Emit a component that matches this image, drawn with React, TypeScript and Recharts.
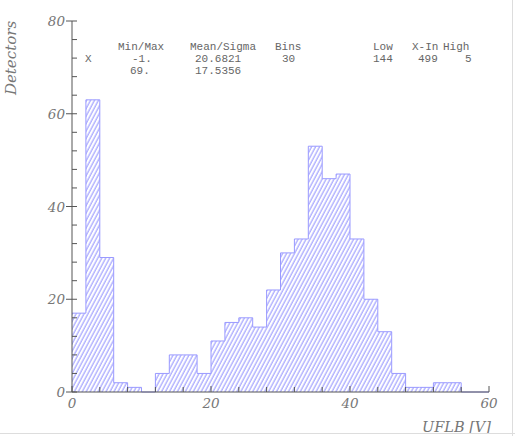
import React from 'react'
import { ComposedChart, Area, XAxis, YAxis } from 'recharts'

// histogram: 30 bins of width 2 over [0, 60]
const binStarts = [0, 2, 4, 6, 8, 10, 12, 14, 16, 18, 20, 22, 24, 26, 28, 30, 32, 34, 36, 38, 40, 42, 44, 46, 48, 50, 52, 54, 56, 58]
const counts = [17, 63, 29, 2, 1, 0, 4, 8, 8, 4, 11, 15, 16, 14, 22, 30, 33, 53, 46, 47, 33, 20, 13, 4, 1, 1, 2, 2, 0, 0]
const xMax = 60
const yMax = 80

const xTicks = [0, 4, 8, 12, 16, 20, 24, 28, 32, 36, 40, 44, 48, 52, 56, 60]
const yTicks = [0, 4, 8, 12, 16, 20, 24, 28, 32, 36, 40, 44, 48, 52, 56, 60, 64, 68, 72, 76, 80]
const majorTicks = [0, 20, 40, 60, 80]

const statsHeader = ['Min/Max', 'Mean/Sigma', 'Bins', 'Low', 'X-In', 'High']
const statsRow1 = ['X', '-1.', '20.6821', '30', '144', '499', '5']
const statsRow2 = ['69.', '17.5356']

// step points: one per bin start plus the closing edge
const data = binStarts.map((x, i) => ({ x, count: counts[i] }))
data.push({ x: xMax, count: counts[counts.length - 1] })

const axisColor = '#555'
const labelFont = '"DejaVu Serif", serif'

const AxisTick = (props: any) => {
	const { x, y, payload, side } = props
	const v = payload.value
	const major = majorTicks.includes(v)
	const len = major ? 6 : 5
	if (side === 'bottom') {
		return (
			<g>
				<line x1={x} x2={x} y1={y} y2={y - len} stroke={axisColor} />
				{major && (
					<text x={x} y={y + 16} textAnchor="middle" fontSize={13.5} fontStyle="italic"
						fontFamily={labelFont} fill="#777">{v}</text>
				)}
			</g>
		)
	}
	if (side === 'top') {
		return <line x1={x} x2={x} y1={y} y2={y + len} stroke={axisColor} />
	}
	if (side === 'left') {
		return (
			<g>
				<line x1={major ? x - 6 : x} x2={x + 5} y1={y} y2={y} stroke={axisColor} />
				{major && (
					<text x={x - 7} y={y + 5} textAnchor="end" fontSize={13.5} fontStyle="italic"
						fontFamily={labelFont} fill="#777">{v}</text>
				)}
			</g>
		)
	}
	return <line x1={x} x2={x - 5} y1={y} y2={y} stroke={axisColor} />
}

const statsStyle: React.CSSProperties = { fontFamily: '"Liberation Mono", monospace', fontSize: 11 }

export default function App() {
	return (
		<div style={{ position: 'absolute', left: 0, top: 0, width: 515, height: 436, background: '#fff' }}>
			<ComposedChart width={515} height={436} data={data}
				margin={{ top: 21, right: 26, bottom: 0, left: 0 }}>
				<defs>
					<pattern id="hatch" width="3.5" height="10" patternUnits="userSpaceOnUse"
						patternTransform="rotate(28)">
						<line x1="1" y1="0" x2="1" y2="10" stroke="#8f8fff" strokeWidth="1" />
					</pattern>
				</defs>
				<XAxis dataKey="x" type="number" domain={[0, xMax]} ticks={xTicks} height={44}
					tickSize={0} tickMargin={0} tickLine={false} interval={0}
					axisLine={{ stroke: axisColor }} tick={<AxisTick side="bottom" />} />
				<XAxis xAxisId="top" orientation="top" dataKey="x" type="number" domain={[0, xMax]}
					ticks={xTicks} height={0} tickSize={0} tickMargin={0} tickLine={false} interval={0}
					axisLine={{ stroke: axisColor }} tick={<AxisTick side="top" />} />
				<YAxis type="number" domain={[0, yMax]} ticks={yTicks} width={72}
					tickSize={0} tickMargin={0} tickLine={false} interval={0}
					axisLine={{ stroke: axisColor }} tick={<AxisTick side="left" />} />
				<YAxis yAxisId="right" orientation="right" type="number" domain={[0, yMax]}
					ticks={yTicks} width={0} tickSize={0} tickMargin={0} tickLine={false} interval={0}
					axisLine={{ stroke: axisColor }} tick={<AxisTick side="right" />} />
				<Area type="stepAfter" dataKey="count" baseValue={0} fill="url(#hatch)" fillOpacity={1}
					stroke="#9a9aff" strokeWidth={1} dot={false} activeDot={false}
					isAnimationActive={false} />
				<Area type="stepAfter" dataKey="count" xAxisId="top" yAxisId="right" fill="none"
					stroke="none" dot={false} activeDot={false} isAnimationActive={false} />
			</ComposedChart>
			<svg width={515} height={436} style={{ position: 'absolute', left: 0, top: 0, pointerEvents: 'none' }}>
				<g style={statsStyle} fill="#666">
					<text x={118} y={50}>{statsHeader[0]}</text>
					<text x={190} y={50}>{statsHeader[1]}</text>
					<text x={275} y={50}>{statsHeader[2]}</text>
					<text x={373} y={50}>{statsHeader[3]}</text>
					<text x={412} y={50}>{statsHeader[4]}</text>
					<text x={443} y={50}>{statsHeader[5]}</text>
					<text x={85} y={62}>{statsRow1[0]}</text>
					<text x={132} y={62}>{statsRow1[1]}</text>
					<text x={195} y={62}>{statsRow1[2]}</text>
					<text x={282} y={62}>{statsRow1[3]}</text>
					<text x={373} y={62}>{statsRow1[4]}</text>
					<text x={418} y={62}>{statsRow1[5]}</text>
					<text x={465} y={62}>{statsRow1[6]}</text>
					<text x={130} y={74}>{statsRow2[0]}</text>
					<text x={195} y={74}>{statsRow2[1]}</text>
				</g>
				<text transform="translate(16,58) rotate(-90)" textAnchor="middle" fontSize={15}
					fontStyle="italic" fontFamily={labelFont} fill="#777">Detectors</text>
				<text x={491} y={432} textAnchor="end" fontSize={14.5} fontStyle="italic"
					fontFamily={labelFont} fill="#777">UFLB [V]</text>
				<line x1={512.5} x2={512.5} y1={0} y2={436} stroke="#ddd" />
				<line x1={0} x2={515} y1={433.5} y2={433.5} stroke="#ddd" />
			</svg>
		</div>
	)
}
